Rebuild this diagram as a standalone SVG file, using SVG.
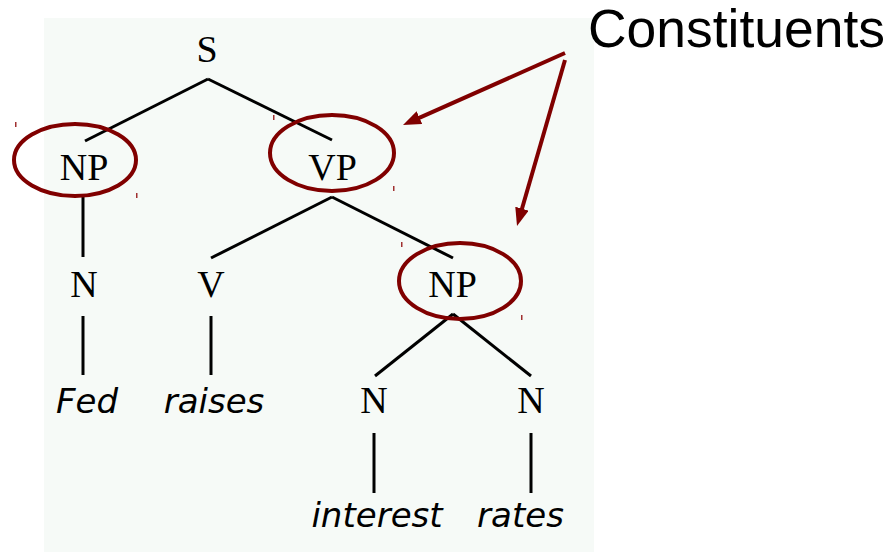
<svg xmlns="http://www.w3.org/2000/svg" width="889" height="552" viewBox="0 0 889 552">
<style>
.t{font-family:"Liberation Serif","Times New Roman",serif;font-size:38px;fill:#000;text-anchor:middle}
.w{font-family:"DejaVu Sans",sans-serif;font-style:oblique;font-size:34px;fill:#000;text-anchor:middle}
.e{fill:none;stroke:#800000;stroke-width:4}
.l{stroke:#000;stroke-width:3;fill:none}
.a{stroke:#800000;stroke-width:4;fill:none}
.tick{fill:#a03030}
</style>
<defs>
<marker id="ah" markerUnits="userSpaceOnUse" markerWidth="18" markerHeight="14" refX="4" refY="7" orient="auto">
<path d="M0,0 L18,7 L0,14 z" fill="#800000"/>
</marker>
</defs>
<rect x="44" y="18" width="550" height="534" fill="#F6FAF7"/>
<g id="ticks">
<rect class="tick" x="15" y="122" width="1.5" height="5"/>
<rect class="tick" x="136" y="193" width="1.5" height="5"/>
<rect class="tick" x="273" y="115" width="1.5" height="5"/>
<rect class="tick" x="393" y="186" width="1.5" height="5"/>
<rect class="tick" x="401" y="242" width="1.5" height="5"/>
<rect class="tick" x="521" y="315" width="1.5" height="5"/>
</g>
<g id="connectors">
<path class="l" d="M208,79 L85,141"/>
<path class="l" d="M208,79 L332,140"/>
<path class="l" d="M83,197 L83,257"/>
<path class="l" d="M332,197 L211,258"/>
<path class="l" d="M332,197 L453,258"/>
<path class="l" d="M83,316 L83,375"/>
<path class="l" d="M211,316 L211,375"/>
<path class="l" d="M453,314 L375,376"/>
<path class="l" d="M453,314 L531,376"/>
<path class="l" d="M374,433 L374,493"/>
<path class="l" d="M531,433 L531,493"/>
<path class="a" d="M565,53 L415.8,119.3" marker-end="url(#ah)"/>
<path class="a" d="M565,60 L520.9,212.5" marker-end="url(#ah)"/>
</g>
<g id="S"><text class="t" x="207" y="62">S</text></g>
<g id="NP1"><ellipse class="e" cx="75" cy="160" rx="61" ry="36"/><text class="t" x="84" y="180">NP</text></g>
<g id="VP"><ellipse class="e" cx="332" cy="153" rx="62" ry="38"/><text class="t" x="332.5" y="180">VP</text></g>
<g id="N1"><text class="t" x="84" y="297">N</text></g>
<g id="V"><text class="t" x="211" y="297">V</text></g>
<g id="NP2"><ellipse class="e" cx="460" cy="281" rx="61" ry="38"/><text class="t" x="452.5" y="297">NP</text></g>
<g id="N2"><text class="t" x="374" y="413">N</text></g>
<g id="N3"><text class="t" x="531" y="413">N</text></g>
<g id="Fed"><text class="w" x="87" y="413">Fed</text></g>
<g id="raises"><text class="w" x="214" y="413">raises</text></g>
<g id="interest"><text class="w" x="377" y="527">interest</text></g>
<g id="rates"><text class="w" x="520.5" y="527">rates</text></g>
<g id="Constituents"><text x="588" y="47" font-family="Liberation Sans, Arial, sans-serif" font-size="53" textLength="297" lengthAdjust="spacingAndGlyphs" fill="#000">Constituents</text></g>
</svg>
